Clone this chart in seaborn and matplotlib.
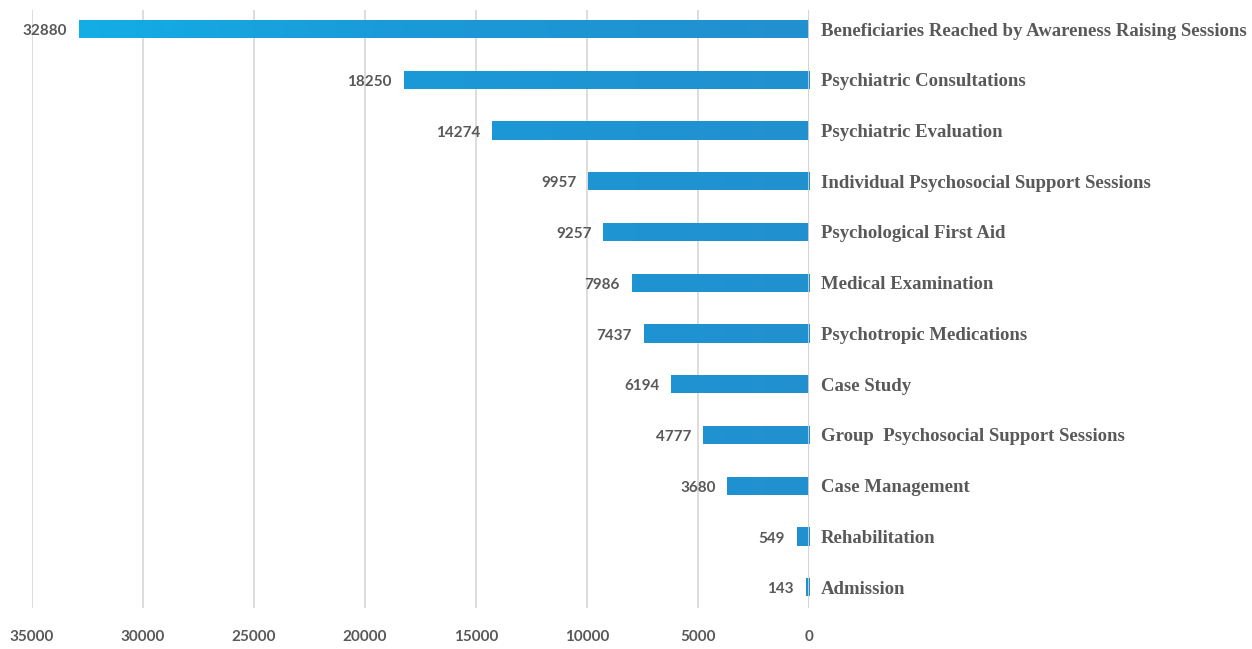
import numpy as np
import pandas as pd
import seaborn as sns
import matplotlib.pyplot as plt
from matplotlib.colors import LinearSegmentedColormap

# Data
services = [
    "Beneficiaries Reached by Awareness Raising Sessions",
    "Psychiatric Consultations",
    "Psychiatric Evaluation",
    "Individual Psychosocial Support Sessions",
    "Psychological First Aid",
    "Medical Examination",
    "Psychotropic Medications",
    "Case Study",
    "Group  Psychosocial Support Sessions",
    "Case Management",
    "Rehabilitation",
    "Admission",
]
counts = [32880, 18250, 14274, 9957, 9257, 7986, 7437, 6194, 4777, 3680, 549, 143]
x_ticks = [35000, 30000, 25000, 20000, 15000, 10000, 5000, 0]

df = pd.DataFrame({"service": services, "count": counts})

sns.set_style("white")
plt.rcParams["font.family"] = ["DejaVu Sans"]

W, H = 1252, 649
fig = plt.figure(figsize=(W / 100, H / 100), dpi=100)
ax = fig.add_axes([32 / W, 1 - 608 / H, (809 - 32) / W, (608 - 10) / H])

sns.barplot(data=df, x="count", y="service", orient="h", color="#1e96d4",
            width=0.36, ax=ax, saturation=1)

ax.set_xlim(35000, 0)
ax.set_ylim(11.41, -0.375)

# gradient fill along x (darker near zero, lighter far left)
cmap = LinearSegmentedColormap.from_list("g", ["#2290cf", "#1b99d7", "#12b0e8"])
for p in ax.patches:
    x0, y0 = p.get_x(), p.get_y()
    w, h = p.get_width(), p.get_height()
    grad = np.linspace(x0, x0 + w, 256).reshape(1, -1)
    im = ax.imshow(grad, extent=[x0, x0 + w, y0 + h, y0], aspect="auto",
                   cmap=cmap, vmin=0, vmax=35000, zorder=3)
    p.set_zorder(2)
    p.set_edgecolor("none")
    im.set_clip_path(p)

ax.set_xlim(35000, 0)
ax.set_ylim(11.41, -0.375)

# gridlines
ax.set_xticks(x_ticks)
ax.xaxis.grid(True, color="#dadada", linewidth=1.3)
ax.set_axisbelow(True)
for s in ax.spines.values():
    s.set_visible(False)
ax.axvline(0, color="#d3d3d3", linewidth=2, zorder=4)

ax.tick_params(axis="x", length=0, pad=15.5, labelsize=11, labelcolor="#595959")
for t in ax.get_xticklabels():
    t.set_fontweight("bold")
    t.set_family(["Lato", "DejaVu Sans"])

ax.yaxis.tick_right()
ax.tick_params(axis="y", length=0, pad=8.5, labelsize=13.5, labelcolor="#595959")
for t in ax.get_yticklabels():
    t.set_fontweight("bold")
    t.set_family(["Liberation Serif", "DejaVu Serif"])

ax.set_xlabel("")
ax.set_ylabel("")

# value labels
for i, v in enumerate(counts):
    ax.annotate(str(v), xy=(v, i), xytext=(-8.5, -1.5), textcoords="offset points",
                ha="right", va="center", fontsize=11, fontweight="bold",
                color="#595959", family=["Lato", "DejaVu Sans"])

plt.savefig("out.png", dpi=100)
plt.close()
